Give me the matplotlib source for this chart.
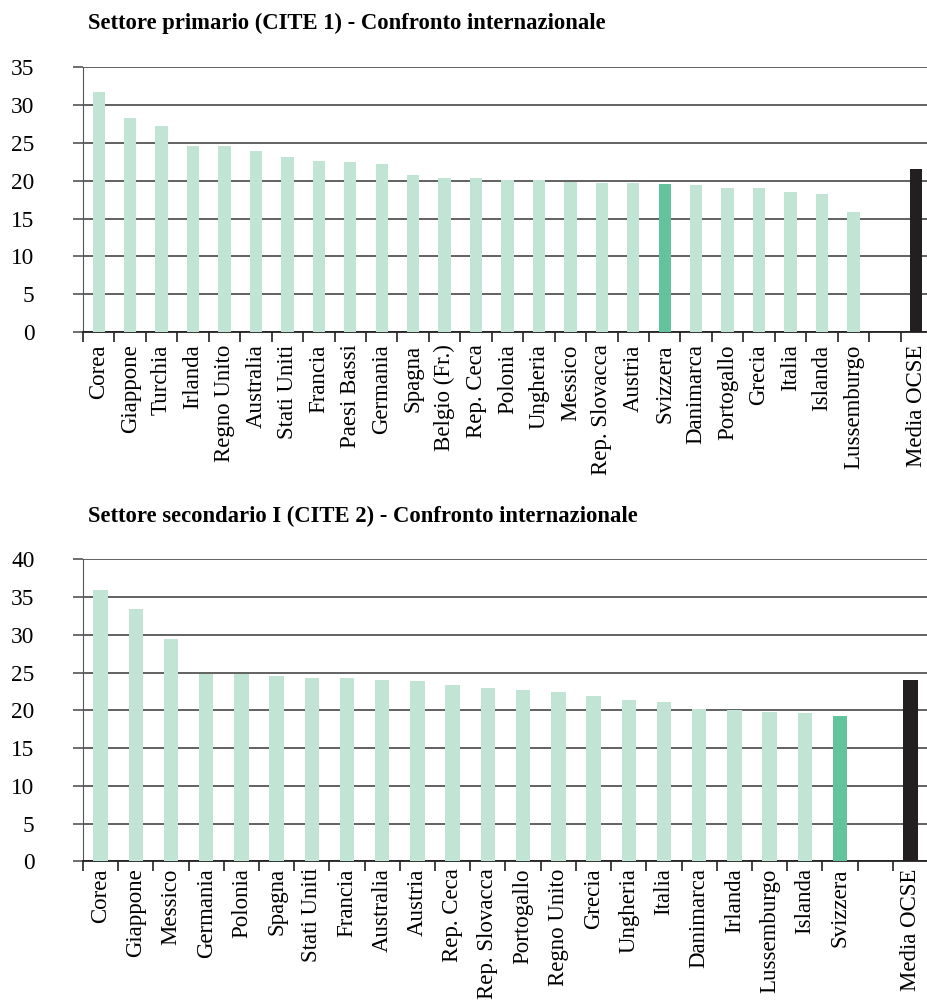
import numpy as np
import matplotlib
matplotlib.use('Agg')
import matplotlib.pyplot as plt

# dati
paesi_prim = ['Corea', 'Giappone', 'Turchia', 'Irlanda', 'Regno Unito', 'Australia',
              'Stati Uniti', 'Francia', 'Paesi Bassi', 'Germania', 'Spagna',
              'Belgio (Fr.)', 'Rep. Ceca', 'Polonia', 'Ungheria', 'Messico',
              'Rep. Slovacca', 'Austria', 'Svizzera', 'Danimarca', 'Portogallo',
              'Grecia', 'Italia', 'Islanda', 'Lussemburgo', '', 'Media OCSE']
valori_prim = [31.7, 28.35, 27.3, 24.55, 24.55, 24.0, 23.2, 22.6, 22.45, 22.2, 20.8,
               20.4, 20.35, 20.1, 20.1, 19.9, 19.75, 19.75, 19.6, 19.5, 19.0,
               19.0, 18.55, 18.3, 15.9, 0, 21.6]

paesi_sec = ['Corea', 'Giappone', 'Messico', 'Germania', 'Polonia', 'Spagna',
             'Stati Uniti', 'Francia', 'Australia', 'Austria', 'Rep. Ceca',
             'Rep. Slovacca', 'Portogallo', 'Regno Unito', 'Grecia', 'Ungheria',
             'Italia', 'Danimarca', 'Irlanda', 'Lussemburgo', 'Islanda',
             'Svizzera', '', 'Media OCSE']
valori_sec = [35.9, 33.4, 29.45, 24.75, 24.75, 24.6, 24.3, 24.3, 24.0, 23.9, 23.3,
              22.9, 22.7, 22.4, 21.85, 21.4, 21.1, 20.2, 20.05, 19.8, 19.65,
              19.25, 0, 24.0]

titoli = ['Settore primario (CITE 1) - Confronto internazionale',
          'Settore secondario I (CITE 2) - Confronto internazionale']

CHIARO = '#c2e4d5'
SVIZZERA = '#62c39c'
MEDIA = '#231f20'
GRIGIO = '#555555'

plt.rcParams['font.family'] = ['Liberation Serif', 'DejaVu Serif']

fig = plt.figure(figsize=(9.27, 10.05), dpi=100)


def colori(paesi):
    c = []
    for p in paesi:
        if p == 'Svizzera':
            c.append(SVIZZERA)
        elif p == 'Media OCSE':
            c.append(MEDIA)
        else:
            c.append(CHIARO)
    return c


def grafico(ax, paesi, valori, ymax, larghezza, pad_x):
    x = np.arange(len(paesi))
    ax.bar(x, valori, width=larghezza, color=colori(paesi), zorder=3)
    ax.set_xlim(-0.5, len(paesi) - 0.5)
    ax.set_ylim(0, ymax)
    ax.set_yticks(np.arange(0, ymax + 1, 5))
    ax.yaxis.grid(True, color=GRIGIO, linewidth=1.3, zorder=0)
    ax.set_axisbelow(True)
    for s in ['top', 'right']:
        ax.spines[s].set_visible(False)
    ax.spines['left'].set_color(GRIGIO)
    ax.spines['bottom'].set_color('#222222')
    ax.spines['bottom'].set_linewidth(1.3)
    # tacche tra le categorie
    ax.set_xticks(np.arange(len(paesi) + 1) - 0.5)
    ax.set_xticklabels([])
    ax.set_xticks(x, minor=True)
    ax.set_xticklabels(paesi, minor=True, rotation=90, fontsize=16.5)
    ax.tick_params(axis='x', which='major', length=7, width=1.2, color='#222222')
    ax.tick_params(axis='x', which='minor', length=0, pad=pad_x)
    ax.tick_params(axis='y', length=7, width=1.2, color=GRIGIO, labelsize=16.8, pad=28)


ax1 = fig.add_axes([83 / 927, 1 - 332 / 1005, 849 / 927, 264.6 / 1005])
grafico(ax1, paesi_prim, valori_prim, 35, 0.39, 9)

ax2 = fig.add_axes([83 / 927, 1 - 861.3 / 1005, 845 / 927, 302 / 1005])
grafico(ax2, paesi_sec, valori_sec, 40, 0.41, 5)

fig.text(88 / 927, 1 - 29 / 1005, titoli[0], fontsize=16.3, fontweight='bold',
         va='baseline', ha='left')
fig.text(88 / 927, 1 - 522 / 1005, titoli[1], fontsize=16.3, fontweight='bold',
         va='baseline', ha='left')

plt.savefig('out.png', dpi=100)
